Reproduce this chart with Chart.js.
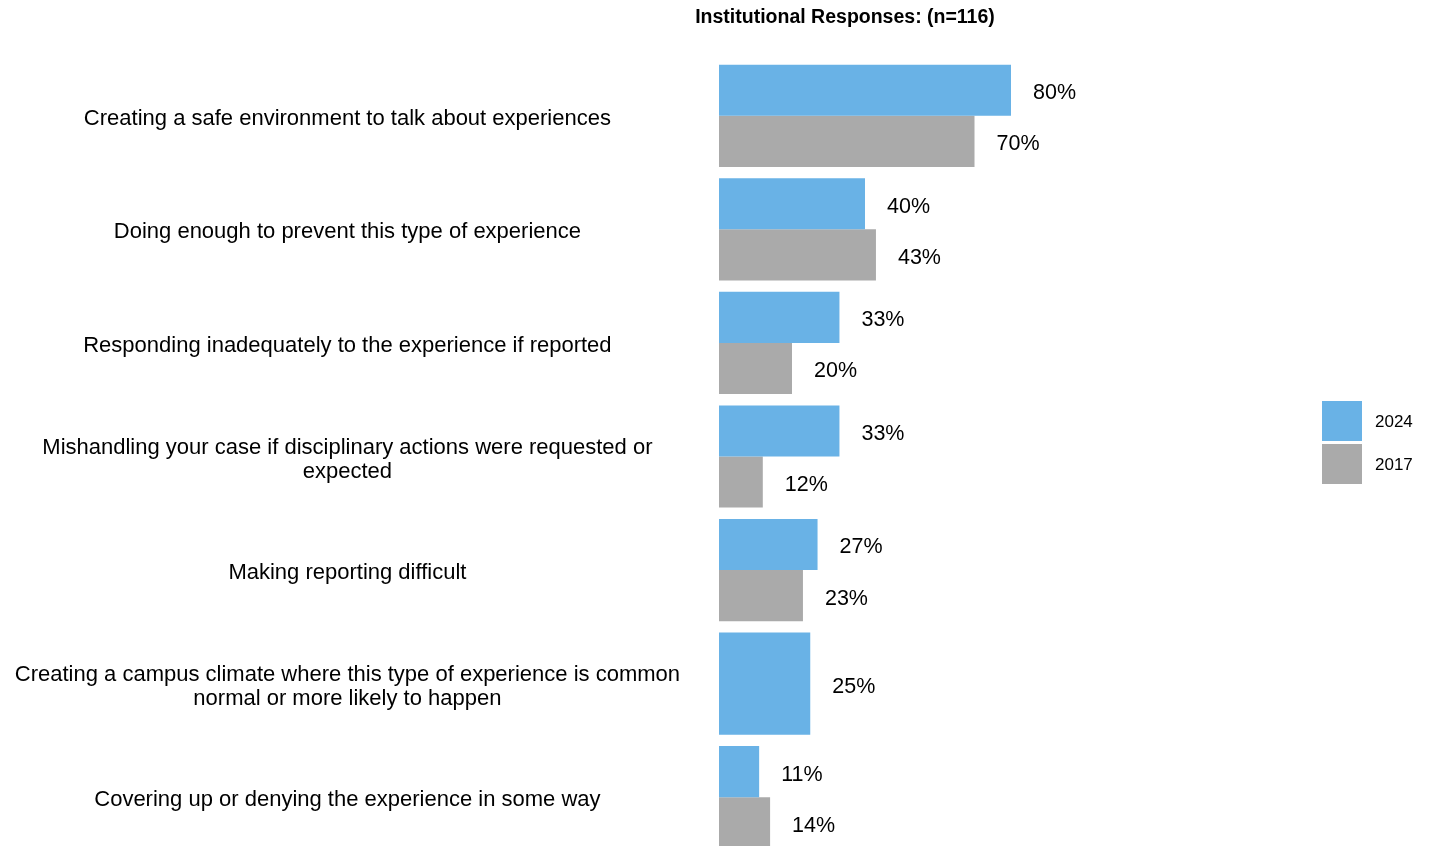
<!DOCTYPE html>
<html>
<head>
<meta charset="utf-8">
<title>Institutional Responses</title>
<script src="https://cdn.jsdelivr.net/npm/chart.js@4"></script>
<style>
    html, body { margin: 0; padding: 0; background: #fff; overflow: hidden; }
    canvas { display: block; }
</style>
</head>
<body>
<canvas id="responses_graph" width="1429" height="870"></canvas>
<script>
const categories = [
    'Creating a safe environment to talk about experiences',
    'Doing enough to prevent this type of experience',
    'Responding inadequately to the experience if reported',
    ['Mishandling your case if disciplinary actions were requested or', 'expected'],
    'Making reporting difficult',
    ['Creating a campus climate where this type of experience is common', 'normal or more likely to happen'],
    'Covering up or denying the experience in some way'
];
const values2024 = [80, 40, 33, 33, 27, 25, 11];
const values2017 = [70, 43, 20, 12, 23, null, 14];
const seriesNames = ['2024', '2017'];
const chartTitle = 'Institutional Responses: (n=116)';

const FONT = '"Liberation Sans", Arial, Helvetica, sans-serif';

/* percent labels to the right of every bar */
const valueLabels = {
    id: 'valueLabels',
    afterDatasetsDraw(chart) {
        const ctx = chart.ctx;
        ctx.save();
        ctx.font = '21.5px ' + FONT;
        ctx.fillStyle = '#000';
        ctx.textAlign = 'left';
        ctx.textBaseline = 'middle';
        chart.data.datasets.forEach((ds, i) => {
            chart.getDatasetMeta(i).data.forEach((bar, j) => {
                if (ds.data[j] == null) return;
                ctx.fillText(ds.data[j] + '%', bar.x + 22, bar.y + 3);
            });
        });
        ctx.restore();
    }
};

/* title above the bars and the square legend on the right */
const titleAndLegend = {
    id: 'titleAndLegend',
    afterDraw(chart) {
        const ctx = chart.ctx;
        ctx.save();
        ctx.font = 'bold 19.5px ' + FONT;
        ctx.fillStyle = '#000';
        ctx.textAlign = 'center';
        ctx.textBaseline = 'middle';
        ctx.fillText(chartTitle, chart.chartArea.left + 126, 18);

        ctx.font = '17px ' + FONT;
        ctx.textAlign = 'left';
        chart.data.datasets.forEach((ds, i) => {
            const y = 401 + i * 43;
            ctx.fillStyle = ds.backgroundColor;
            ctx.fillRect(1322, y, 40, 40);
            ctx.fillStyle = '#000';
            ctx.fillText(ds.label, 1375, y + 21);
        });
        ctx.restore();
    }
};

new Chart(document.getElementById('responses_graph'), {
    type: 'bar',
    data: {
        labels: categories,
        datasets: [{
            label: seriesNames[0],
            data: values2024,
            backgroundColor: '#69B2E6'
        },
        {
            label: seriesNames[1],
            data: values2017,
            backgroundColor: '#AAAAAA'
        }]
    },
    options: {
        indexAxis: 'y',
        responsive: false,
        animation: false,
        skipNull: true,
        categoryPercentage: 0.9,
        barPercentage: 1.0,
        layout: {
            padding: { top: 59, left: 9, right: 345, bottom: 16 }
        },
        plugins: {
            legend: { display: false },
            title: { display: false },
            tooltip: { enabled: false }
        },
        scales: {
            x: {
                display: false,
                min: 0,
                max: 100
            },
            y: {
                grid: { display: false, drawTicks: false },
                border: { display: false },
                ticks: {
                    color: '#000',
                    crossAlign: 'center',
                    padding: 39,
                    labelOffset: 3,
                    font: { family: FONT, size: 22, lineHeight: 1.09 }
                },
                afterFit(scale) {
                    // fixed label column; labels must not push the bar area in
                    scale.width = 710;
                    scale.paddingTop = 0;
                    scale.paddingBottom = 0;
                }
            }
        }
    },
    plugins: [valueLabels, titleAndLegend]
});
</script>
</body>
</html>
